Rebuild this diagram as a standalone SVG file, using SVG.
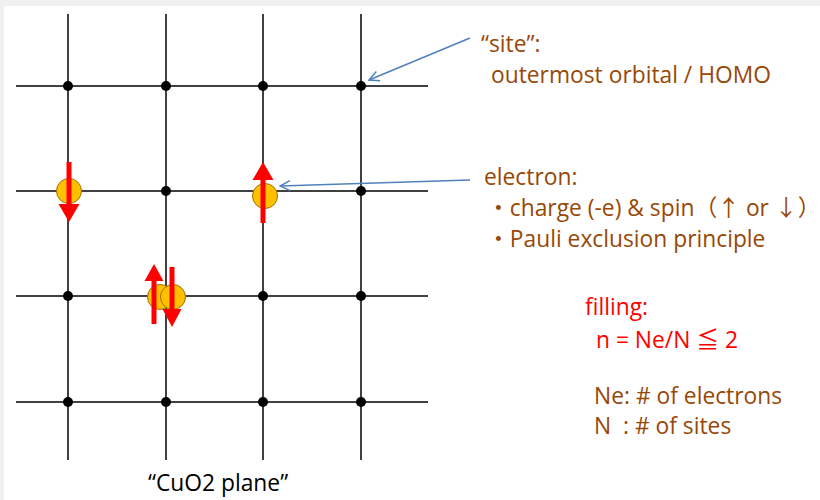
<svg xmlns="http://www.w3.org/2000/svg" width="820" height="500" viewBox="0 0 820 500">
<style>
.grid{stroke:#000;stroke-width:1.5}
.dot{fill:#000}
.el{fill:#FFC000;stroke:#A07000;stroke-width:1}
.spin{stroke:#FF0000;stroke-width:5;fill:none}
.head{fill:#FF0000}
.conn{stroke:#4F81BD;stroke-width:1.5;fill:none;marker-end:url(#open)}
text{font-family:"Open Sans","Liberation Sans",sans-serif;font-size:22.8px;white-space:pre}
.cjk{font-family:"Noto Sans CJK JP",sans-serif}
.br{fill:#984807}
.rd{fill:#FF0000}
.bk{fill:#000}
</style>
<defs>
<marker id="open" viewBox="0 0 12 12" refX="11" refY="6" markerWidth="12" markerHeight="12" markerUnits="userSpaceOnUse" orient="auto">
<path d="M1,1 L11,6 L1,11" fill="none" stroke="#4F81BD" stroke-width="1.5"/>
</marker>
</defs>
<rect x="0" y="0" width="820" height="500" fill="#F0F0F0"/>
<rect x="4" y="6" width="816" height="494" fill="#FFFFFF"/>
<g id="lattice">
<line class="grid" x1="68" y1="14" x2="68" y2="460"/>
<line class="grid" x1="166" y1="14" x2="166" y2="460"/>
<line class="grid" x1="263" y1="14" x2="263" y2="460"/>
<line class="grid" x1="361" y1="14" x2="361" y2="460"/>
<line class="grid" x1="16" y1="86" x2="428" y2="86"/>
<line class="grid" x1="16" y1="191" x2="428" y2="191"/>
<line class="grid" x1="16" y1="296" x2="428" y2="296"/>
<line class="grid" x1="16" y1="402" x2="428" y2="402"/>
<circle class="dot" cx="68" cy="86" r="5"/><circle class="dot" cx="166" cy="86" r="5"/><circle class="dot" cx="263" cy="86" r="5"/><circle class="dot" cx="361" cy="86" r="5"/>
<circle class="dot" cx="68" cy="191" r="5"/><circle class="dot" cx="166" cy="191" r="5"/><circle class="dot" cx="263" cy="191" r="5"/><circle class="dot" cx="361" cy="191" r="5"/>
<circle class="dot" cx="68" cy="296" r="5"/><circle class="dot" cx="166" cy="296" r="5"/><circle class="dot" cx="263" cy="296" r="5"/><circle class="dot" cx="361" cy="296" r="5"/>
<circle class="dot" cx="68" cy="402" r="5"/><circle class="dot" cx="166" cy="402" r="5"/><circle class="dot" cx="263" cy="402" r="5"/><circle class="dot" cx="361" cy="402" r="5"/>
</g>
<g id="electron1">
<circle class="el" cx="69" cy="191" r="12.5"/>
<line class="spin" x1="69" y1="162" x2="69" y2="206"/>
<polygon class="head" points="58.5,204 79.5,204 69,222"/>
</g>
<g id="electron2">
<circle class="el" cx="265" cy="196" r="12.5"/>
<line class="spin" x1="263" y1="223" x2="263" y2="177"/>
<polygon class="head" points="252.5,180 273.5,180 263,162"/>
</g>
<g id="electron3">
<circle class="el" cx="160" cy="297" r="12.5"/>
<circle class="el" cx="173" cy="297" r="12.5"/>
<line class="spin" x1="154" y1="324" x2="154" y2="278"/>
<polygon class="head" points="144.5,281 163.5,281 154,264"/>
<line class="spin" x1="172" y1="267" x2="172" y2="311"/>
<polygon class="head" points="162.5,309 181.5,309 172,327"/>
</g>
<g id="connectors">
<line class="conn" x1="470" y1="38" x2="369" y2="80"/>
<line class="conn" x1="470" y1="180" x2="280" y2="186"/>
</g>
<g id="site-label">
<text class="br" x="481" y="52">“site”:</text>
<text class="br" x="491" y="83">outermost orbital / HOMO</text>
</g>
<g id="electron-label">
<text class="br" x="484" y="185">electron:</text>
<text class="br" x="487" y="216"><tspan class="cjk">・</tspan>charge (-e) &amp; spin<tspan class="cjk">（↑</tspan> or <tspan class="cjk">↓）</tspan></text>
<text class="br" x="487" y="247"><tspan class="cjk">・</tspan>Pauli exclusion principle</text>
</g>
<g id="filling-label">
<text class="rd" x="585" y="315">filling:</text>
<text class="rd" x="596" y="348">n = Ne/N <tspan class="cjk">≦</tspan> 2</text>
</g>
<g id="definitions">
<text class="br" x="594" y="404">Ne: # of electrons</text>
<text class="br" x="594" y="434">N  : # of sites</text>
</g>
<g id="caption">
<text class="bk" x="148" y="491">“CuO2 plane”</text>
</g>
</svg>
